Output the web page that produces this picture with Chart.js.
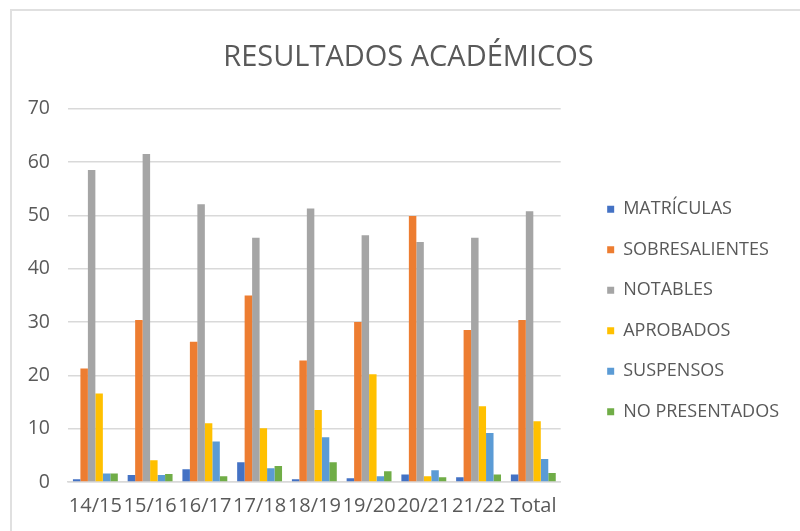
<!DOCTYPE html>
<html>
<head>
<meta charset="utf-8">
<script src="https://cdn.jsdelivr.net/npm/chart.js@4.4.0/dist/chart.umd.min.js"></script>
<style>
  body { margin: 0; background: #fff; }
  .frame { position: absolute; left: 10px; top: 9px; width: 800px; height: 540px; border-top: 2px solid #e0e0e0; border-left: 2px solid #e0e0e0; }
  .C_chart { position: absolute; left: 0; top: 0; width: 800px; height: 531px; }
</style>
</head>
<body>
<div class="frame"></div>
<div class="C_chart"><canvas id="myChart" width="800" height="531"></canvas></div>
<script>
const cursos = ['14/15', '15/16', '16/17', '17/18', '18/19', '19/20', '20/21', '21/22', 'Total']

const matriculas     = [0.5, 1.3, 2.4, 3.7, 0.5, 0.7, 1.4, 0.9, 1.4]
const sobresalientes = [21.3, 30.4, 26.3, 35.0, 22.8, 30.0, 49.9, 28.5, 30.4]
const notables       = [58.5, 61.5, 52.1, 45.8, 51.3, 46.3, 45.0, 45.8, 50.8]
const aprobados      = [16.6, 4.1, 11.0, 10.1, 13.5, 20.2, 1.1, 14.2, 11.4]
const suspensos      = [1.6, 1.3, 7.6, 2.6, 8.4, 1.1, 2.2, 9.2, 4.3]
const noPresentados  = [1.6, 1.5, 1.1, 3.0, 3.7, 2.0, 0.9, 1.4, 1.7]

const series = [
    ['MATRÍCULAS', matriculas, '#4472C4'],
    ['SOBRESALIENTES', sobresalientes, '#ED7D31'],
    ['NOTABLES', notables, '#A5A5A5'],
    ['APROBADOS', aprobados, '#FFC000'],
    ['SUSPENSOS', suspensos, '#5B9BD5'],
    ['NO PRESENTADOS', noPresentados, '#70AD47']
]

const font = "'Open Sans', 'Liberation Sans', sans-serif"
const grey = '#595959'

var myChart = new Chart(document.getElementById('myChart'), {
    type: 'bar',
    data: {
        labels: cursos,
        datasets: series.map(s => ({
            label: s[0],
            data: s[1],
            backgroundColor: s[2],
            borderWidth: 0,
            barPercentage: 1,
            categoryPercentage: 0.82
        }))
    },
    options: {
        responsive: false,
        animation: false,
        layout: { padding: { left: 28, right: 11, top: 0, bottom: 9 } },
        plugins: {
            title: {
                display: true,
                text: 'RESULTADOS ACADÉMICOS',
                color: grey,
                font: { family: font, size: 29, weight: 'normal' },
                padding: { top: 40, bottom: 34 }
            },
            legend: {
                position: 'right',
                maxWidth: 300,
                title: { display: true, text: ' ', font: { size: 10 }, padding: { top: 87, bottom: 0 } },
                labels: {
                    color: grey,
                    font: { family: font, size: 18 },
                    boxWidth: 7,
                    boxHeight: 7,
                    padding: 22.5
                }
            },
            tooltip: { enabled: false }
        },
        scales: {
            x: {
                grid: { display: false },
                border: { color: '#d9d9d9', width: 1.5 },
                ticks: { color: grey, font: { family: font, size: 20 }, padding: 4, maxRotation: 0, minRotation: 0, autoSkip: false }
            },
            y: {
                min: 0,
                max: 70,
                ticks: { stepSize: 10, color: grey, font: { family: font, size: 19.5 }, padding: 18 },
                grid: { color: '#d9d9d9', lineWidth: 1.5, drawTicks: false },
                border: { display: false },
                afterFit: scale => { scale.width = 40 }
            },
            // empty gap between plot and legend
            gap: {
                position: 'right',
                display: true,
                grid: { display: false },
                border: { display: false },
                ticks: { display: false },
                afterFit: scale => { scale.width = 24 }
            }
        }
    }
});
</script>
</body>
</html>
